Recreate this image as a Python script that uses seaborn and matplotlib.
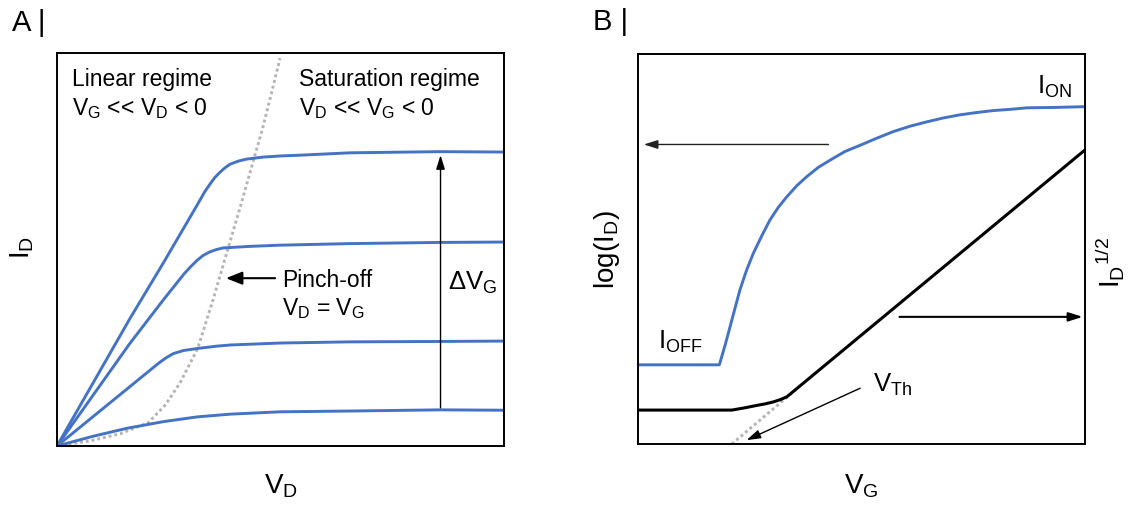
import numpy as np
import pandas as pd
import matplotlib
matplotlib.use("Agg")
import matplotlib.pyplot as plt
import seaborn as sns

# ---------------- data (arbitrary units, 0-100) ----------------
# Panel A: output characteristics I_D vs V_D for four gate voltages
vd_1 = [0, 16.3, 23.8, 31.3, 33.0, 34.2, 35.3, 36.5, 37.6, 38.7, 40.6, 42.4, 46.0, 49.9, 54.4, 65.5, 85.7, 100]
id_1 = [0, 32.4, 46.6, 61.2, 64.6, 66.6, 68.3, 69.7, 70.8, 71.7, 72.5, 73.0, 73.5, 73.8, 74.0, 74.6, 74.9, 74.8]
vd_2 = [0, 16.3, 23.8, 28.5, 29.8, 31.3, 32.7, 34.2, 35.7, 37.1, 38.7, 43.2, 49.9, 65.5, 85.7, 100]
id_2 = [0, 26.1, 37.2, 43.9, 45.5, 47.2, 48.5, 49.4, 50.0, 50.4, 50.5, 50.8, 51.1, 51.5, 51.8, 51.9]
vd_3 = [0, 16.3, 21.8, 23.0, 24.5, 26.0, 28.3, 31.3, 35.7, 38.7, 49.9, 65.5, 85.7, 100]
id_3 = [0, 15.1, 20.2, 21.3, 22.5, 23.5, 24.3, 24.8, 25.4, 25.7, 26.2, 26.5, 26.6, 26.7]
vd_4 = [0, 7.8, 15.6, 23.8, 31.3, 38.7, 49.9, 65.5, 85.7, 100]
id_4 = [0, 2.4, 4.5, 6.2, 7.4, 8.1, 8.7, 8.9, 9.2, 9.1]
# pinch-off locus V_D = V_G
vd_pinch = [0, 7.4, 14.1, 20.4, 24.2, 27.5, 31.5, 34.9, 38.3, 41.0, 44.1, 45.9, 47.7, 49.9]
id_pinch = [0, 1.3, 3.1, 5.9, 10.4, 16.0, 24.9, 37.2, 50.4, 60.8, 73.3, 80.4, 88.5, 98.7]

# Panel B: transfer characteristics
vg_log = [0, 18.2, 19.5, 20.6, 21.7, 22.8, 24.3, 25.8, 27.7, 29.5, 31.4, 33.3, 35.5, 37.7, 40.3,
          43.0, 46.3, 49.7, 53.4, 57.1, 60.9, 64.6, 68.3, 72.0, 75.8, 79.5, 83.2, 87.0, 93.3, 100]
log_id = [20.3, 20.3, 25.4, 30.1, 34.8, 39.5, 44.6, 48.9, 53.4, 57.4, 60.7, 63.4, 66.2, 68.5, 70.9,
          72.8, 75.0, 76.6, 78.4, 80.1, 81.5, 82.6, 83.6, 84.4, 85.0, 85.5, 85.8, 86.2, 86.3, 86.5]
vg_sqrt = [0, 21.0, 24.0, 26.6, 28.5, 30.3, 31.9, 33.3, 100]
sqrt_id = [8.7, 8.7, 9.3, 9.9, 10.3, 10.8, 11.4, 12.1, 75.4]
vg_fit = [21.0, 36.0]
sqrt_fit = [0.0, 14.6]

BLUE = "#4472C4"
GREY = "#B4B4B4"

sns.set_style("white")
plt.rcParams["font.family"] = ["Liberation Sans", "DejaVu Sans"]
plt.rcParams["text.color"] = "black"
plt.rcParams["mathtext.fontset"] = "custom"
plt.rcParams["mathtext.rm"] = "Liberation Sans"
plt.rcParams["mathtext.it"] = "Liberation Sans:italic"
plt.rcParams["mathtext.bf"] = "Liberation Sans:bold"
plt.rcParams["mathtext.default"] = "regular"

W, H = 1145, 508
fig = plt.figure(figsize=(W / 100, H / 100), dpi=100)
axA = fig.add_axes([57 / W, (H - 446) / H, 447 / W, 393 / H])
axB = fig.add_axes([638 / W, (H - 444) / H, 447 / W, 390 / H])


def line(ax, xs, ys, **kw):
    df = pd.DataFrame({"x": xs, "y": ys})
    sns.lineplot(data=df, x="x", y="y", sort=False, estimator=None, ax=ax,
                 solid_joinstyle="round", solid_capstyle="round", **kw)


# ---- Panel A ----
line(axA, vd_pinch, id_pinch, color=GREY, lw=2.1, linestyle=(0, (1, 1.0)), zorder=1)
for xs, ys in [(vd_1, id_1), (vd_2, id_2), (vd_3, id_3), (vd_4, id_4)]:
    line(axA, xs, ys, color=BLUE, lw=2.1, zorder=2)

# ---- Panel B ----
line(axB, vg_fit, sqrt_fit, color=GREY, lw=2.1, linestyle=(0, (1, 1.0)), zorder=1)
line(axB, vg_log, log_id, color=BLUE, lw=2.1, zorder=2)
line(axB, vg_sqrt, sqrt_id, color="black", lw=2.2, zorder=3)

for ax in (axA, axB):
    ax.set_xlim(0, 100)
    ax.set_ylim(0, 100)
    ax.set_xticks([])
    ax.set_yticks([])
    ax.set_xlabel("")
    ax.set_ylabel("")
    for s in ax.spines.values():
        s.set_visible(True)
        s.set_color("black")
        s.set_linewidth(1.4)

FS_SMALL = 16.5
FS_MID = 18.5
FS_LAB = 20

# Panel A texts
axA.text(3.4, 91.6, "Linear regime", fontsize=FS_SMALL, va="baseline")
axA.text(3.4, 84.2, "V$_G$ << V$_D$ < 0", fontsize=FS_SMALL, va="baseline")
axA.text(54.1, 91.6, "Saturation regime", fontsize=FS_SMALL, va="baseline")
axA.text(54.1, 84.2, "V$_D$ << V$_G$ < 0", fontsize=FS_SMALL, va="baseline")
axA.text(50.3, 40.5, "Pinch-off", fontsize=FS_SMALL, va="baseline")
axA.text(50.3, 33.3, "V$_D$ = V$_G$", fontsize=FS_SMALL, va="baseline")
axA.text(87.5, 39.7, "ΔV$_G$", fontsize=FS_MID, va="baseline")

axA.annotate("", xy=(37.8, 42.7), xytext=(48.8, 42.7),
             arrowprops=dict(arrowstyle="-|>,head_length=0.7,head_width=0.28",
                             color="black", lw=1.5, shrinkA=0, shrinkB=0, mutation_scale=14))
axA.annotate("", xy=(85.8, 74.0), xytext=(85.8, 9.7),
             arrowprops=dict(arrowstyle="-|>,head_length=0.7,head_width=0.22",
                             color="black", lw=1.0, shrinkA=0, shrinkB=0, mutation_scale=12))

# Panel B texts
axB.text(4.5, 24.5, "I$_{OFF}$", fontsize=FS_MID, va="baseline")
axB.text(89.2, 89.9, "I$_{ON}$", fontsize=FS_MID, va="baseline")
axB.text(52.6, 13.4, "V$_{Th}$", fontsize=FS_MID, va="baseline")

axB.annotate("", xy=(1.3, 76.8), xytext=(42.6, 76.8),
             arrowprops=dict(arrowstyle="-|>,head_length=0.7,head_width=0.22",
                             color="#222222", lw=1.0, shrinkA=0, shrinkB=0, mutation_scale=12))
axB.annotate("", xy=(99.5, 32.6), xytext=(58.5, 32.6),
             arrowprops=dict(arrowstyle="-|>,head_length=0.7,head_width=0.22",
                             color="black", lw=1.5, shrinkA=0, shrinkB=0, mutation_scale=12))
axB.annotate("", xy=(24.3, 1.0), xytext=(49.7, 14.3),
             arrowprops=dict(arrowstyle="-|>,head_length=0.7,head_width=0.22",
                             color="black", lw=1.0, shrinkA=0, shrinkB=0, mutation_scale=12))


def ftext(x, y, s, **kw):
    fig.text(x / W, 1 - y / H, s, **kw)


ftext(12, 31, "A |", fontsize=21, va="baseline", ha="left")
ftext(593, 30, "B |", fontsize=21, va="baseline", ha="left")
ftext(280.5, 493, "V$_D$", fontsize=FS_LAB, va="baseline", ha="center")
ftext(861.5, 493, "V$_G$", fontsize=FS_LAB, va="baseline", ha="center")
ftext(22, 247, "I$_D$", fontsize=FS_LAB, va="center", ha="center", rotation=90)
ftext(607, 250, "log(I$_D$)", fontsize=FS_LAB, va="center", ha="center", rotation=90)
ftext(1110, 262, "I$_D{}^{1/2}$", fontsize=FS_LAB, va="center", ha="center", rotation=90)

fig.savefig("out.png", dpi=100)
